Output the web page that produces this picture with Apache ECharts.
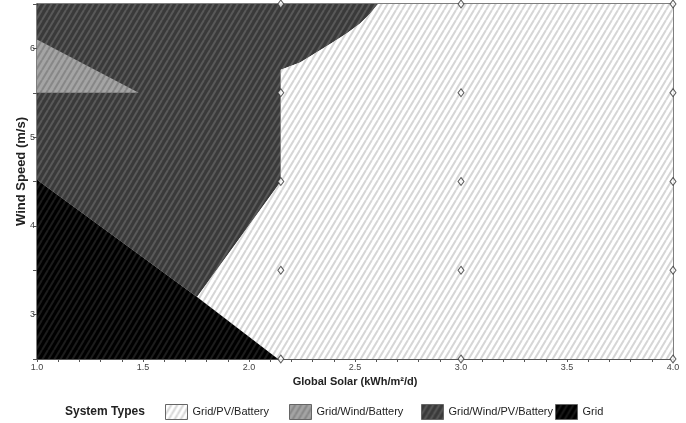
<!DOCTYPE html>
<html>
<head>
<meta charset="utf-8">
<script src="https://cdn.jsdelivr.net/npm/echarts@6/dist/echarts.min.js"></script>
<style>
  html, body { margin: 0; padding: 0; background: #fff; }
  #chart { width: 686px; height: 423px; }
</style>
</head>
<body>
<div id="chart"></div>
<script>
// Optimal system type regions, as polygons in (solar kWh/m²/d, wind m/s) space
const gridRegion = [[1.0, 2.5], [1.0, 4.52], [1.755, 3.2], [2.137, 2.5]];
const pvBatteryRegion = [
  [2.137, 2.5], [1.755, 3.2], [2.15, 4.5], [2.15, 5.76], [2.241, 5.84], [2.335, 5.98],
  [2.396, 6.07], [2.462, 6.17], [2.524, 6.28], [2.571, 6.39], [2.608, 6.5], [4.0, 6.5], [4.0, 2.5]
];
const windPvBatteryRegion = [
  [1.0, 4.52], [1.0, 6.5], [2.608, 6.5], [2.571, 6.39], [2.524, 6.28], [2.462, 6.17],
  [2.396, 6.07], [2.335, 5.98], [2.241, 5.84], [2.15, 5.76], [2.15, 4.5], [1.755, 3.2]
];
const windBatteryRegion = [[1.0, 6.1], [1.0, 5.5], [1.48, 5.5]];

// Sensitivity cases that were simulated
const casePoints = [
  [2.15, 2.5], [2.15, 3.5], [2.15, 4.5], [2.15, 5.5], [2.15, 6.5],
  [3.0, 2.5], [3.0, 3.5], [3.0, 4.5], [3.0, 5.5], [3.0, 6.5],
  [4.0, 2.5], [4.0, 3.5], [4.0, 4.5], [4.0, 5.5], [4.0, 6.5]
];

const systemTypes = ['Grid/PV/Battery', 'Grid/Wind/Battery', 'Grid/Wind/PV/Battery', 'Grid'];

// Diagonal hatch fill
function hatch(bg, fg, lw) {
  const w = 6, h = 10;
  const c = document.createElement('canvas');
  c.width = w; c.height = h;
  const g = c.getContext('2d');
  g.fillStyle = bg;
  g.fillRect(0, 0, w, h);
  g.strokeStyle = fg;
  g.lineWidth = lw;
  for (let k = -1; k <= 1; k++) {
    g.beginPath();
    g.moveTo(k * w, h);
    g.lineTo(k * w + w, 0);
    g.stroke();
  }
  return { image: c, repeat: 'repeat' };
}

const fills = {
  'Grid/PV/Battery': hatch('#ffffff', '#d6d6d6', 2),
  'Grid/Wind/Battery': hatch('#a4a4a4', '#878787', 2),
  'Grid/Wind/PV/Battery': hatch('#3a3a3a', '#595959', 2),
  'Grid': hatch('#000000', '#1c1c1c', 2)
};

function regionSeries(name, verts) {
  return {
    type: 'custom',
    name: name,
    data: verts,
    encode: { x: 0, y: 1 },
    itemStyle: { color: fills[name] },
    renderItem: function (params, api) {
      if (params.dataIndex !== 0) return null;
      return {
        type: 'polygon',
        shape: { points: verts.map(function (p) { return api.coord(p); }) },
        style: { fill: fills[name], stroke: null }
      };
    },
    silent: true
  };
}

const legendLefts = [165, 289, 421, 555];
const font = '"Liberation Sans", Arial, sans-serif';

const chart = echarts.init(document.getElementById('chart'), null, { renderer: 'canvas' });
chart.setOption({
  animation: false,
  backgroundColor: '#ffffff',
  title: {
    text: 'System Types',
    left: 65, top: 406, padding: 0,
    textStyle: { fontSize: 12, fontWeight: 'bold', color: '#222', fontFamily: font }
  },
  legend: systemTypes.map(function (name, i) {
    return {
      data: [{ name: name, icon: 'rect', itemStyle: { color: fills[name], borderColor: '#666', borderWidth: 1 } }],
      left: legendLefts[i], top: 404, padding: 0,
      itemWidth: 22, itemHeight: 15,
      textStyle: { fontSize: 11, color: '#222', fontFamily: font },
      selectedMode: false
    };
  }),
  grid: {
    left: 37, right: 13, top: 4, bottom: 64,
    show: true, borderColor: '#555', borderWidth: 1.5, backgroundColor: 'transparent'
  },
  xAxis: {
    type: 'value', min: 1, max: 4, interval: 0.5,
    name: 'Global Solar (kWh/m²/d)', nameLocation: 'middle', nameGap: 15,
    nameTextStyle: { fontSize: 11, fontWeight: 'bold', color: '#222', fontFamily: font },
    axisLine: { show: true, lineStyle: { color: '#555' } },
    axisTick: { show: true, length: 3, lineStyle: { color: '#555' } },
    minorTick: { show: true, splitNumber: 5, length: 3, lineStyle: { color: '#555' } },
    axisLabel: {
      fontSize: 9, color: '#444', margin: 4, fontFamily: font,
      formatter: function (v) { return v.toFixed(1); }
    },
    splitLine: { show: false }
  },
  yAxis: {
    type: 'value', min: 2.5, max: 6.5, interval: 0.5,
    name: 'Wind Speed (m/s)', nameLocation: 'middle', nameGap: 9,
    nameMoveOverlap: false,
    nameTextStyle: { fontSize: 13, fontWeight: 'bold', color: '#222', fontFamily: font, padding: [0, 0, 0, 20] },
    axisLine: { show: true, lineStyle: { color: '#555' } },
    axisTick: { show: true, length: 4, lineStyle: { color: '#555' } },
    axisLabel: {
      fontSize: 9, color: '#444', margin: 2, fontFamily: font,
      formatter: function (v) { return Number.isInteger(v) ? String(v) : ''; }
    },
    splitLine: { show: false }
  },
  series: [
    regionSeries('Grid/Wind/PV/Battery', windPvBatteryRegion),
    regionSeries('Grid/Wind/Battery', windBatteryRegion),
    regionSeries('Grid/PV/Battery', pvBatteryRegion),
    regionSeries('Grid', gridRegion),
    {
      type: 'scatter',
      name: 'cases',
      data: casePoints,
      symbol: 'diamond',
      symbolSize: [6, 8],
      itemStyle: { color: '#ffffff', borderColor: '#333', borderWidth: 1 },
      silent: true,
      z: 5
    }
  ]
});
</script>
</body>
</html>
